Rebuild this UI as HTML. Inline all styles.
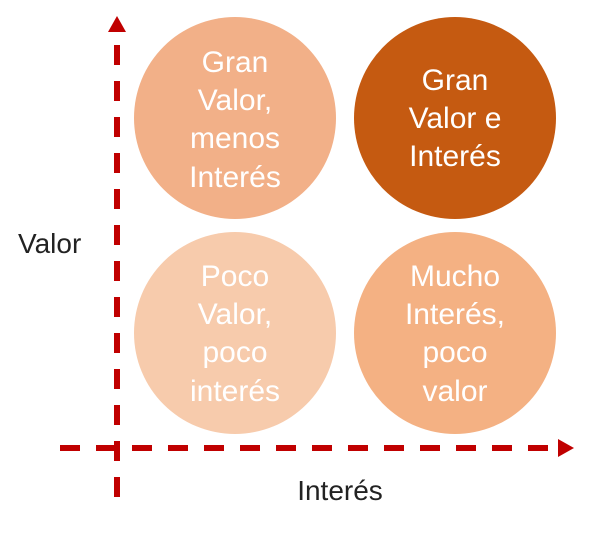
<!DOCTYPE html>
<html><head><style>
html,body{margin:0;padding:0;background:#fff;}
</style></head><body>
<svg width="600" height="528" xmlns="http://www.w3.org/2000/svg" font-family="'Liberation Sans', 'DejaVu Sans', sans-serif">
<circle cx="235" cy="118" r="101" fill="#f2b088"/>
<circle cx="455" cy="118" r="101" fill="#c55a11"/>
<circle cx="235" cy="333" r="101" fill="#f7cbac"/>
<circle cx="455" cy="333" r="101" fill="#f4b183"/>
<g fill="#fff" font-size="30" text-anchor="middle">
<text x="235" y="72">Gran</text><text x="235" y="110">Valor,</text><text x="235" y="148">menos</text><text x="235" y="187">Interés</text>
<text x="455" y="90">Gran</text><text x="455" y="128">Valor e</text><text x="455" y="166">Interés</text>
<text x="235" y="286">Poco</text><text x="235" y="324">Valor,</text><text x="235" y="362">poco</text><text x="235" y="401">interés</text>
<text x="455" y="286">Mucho</text><text x="455" y="324">Interés,</text><text x="455" y="362">poco</text><text x="455" y="401">valor</text>
</g>
<g stroke="#c00000" stroke-width="6" stroke-dasharray="20 16" fill="none">
<line x1="117" y1="45" x2="117" y2="508"/>
<line x1="60" y1="448" x2="560" y2="448"/>
</g>
<polygon points="117,16 108,32 126,32" fill="#c00000"/>
<polygon points="574,448 558,439 558,457" fill="#c00000"/>
<text x="18" y="253" font-size="28" fill="#222">Valor</text>
<text x="340" y="500" font-size="28" fill="#222" text-anchor="middle">Interés</text>
</svg>
</body></html>
